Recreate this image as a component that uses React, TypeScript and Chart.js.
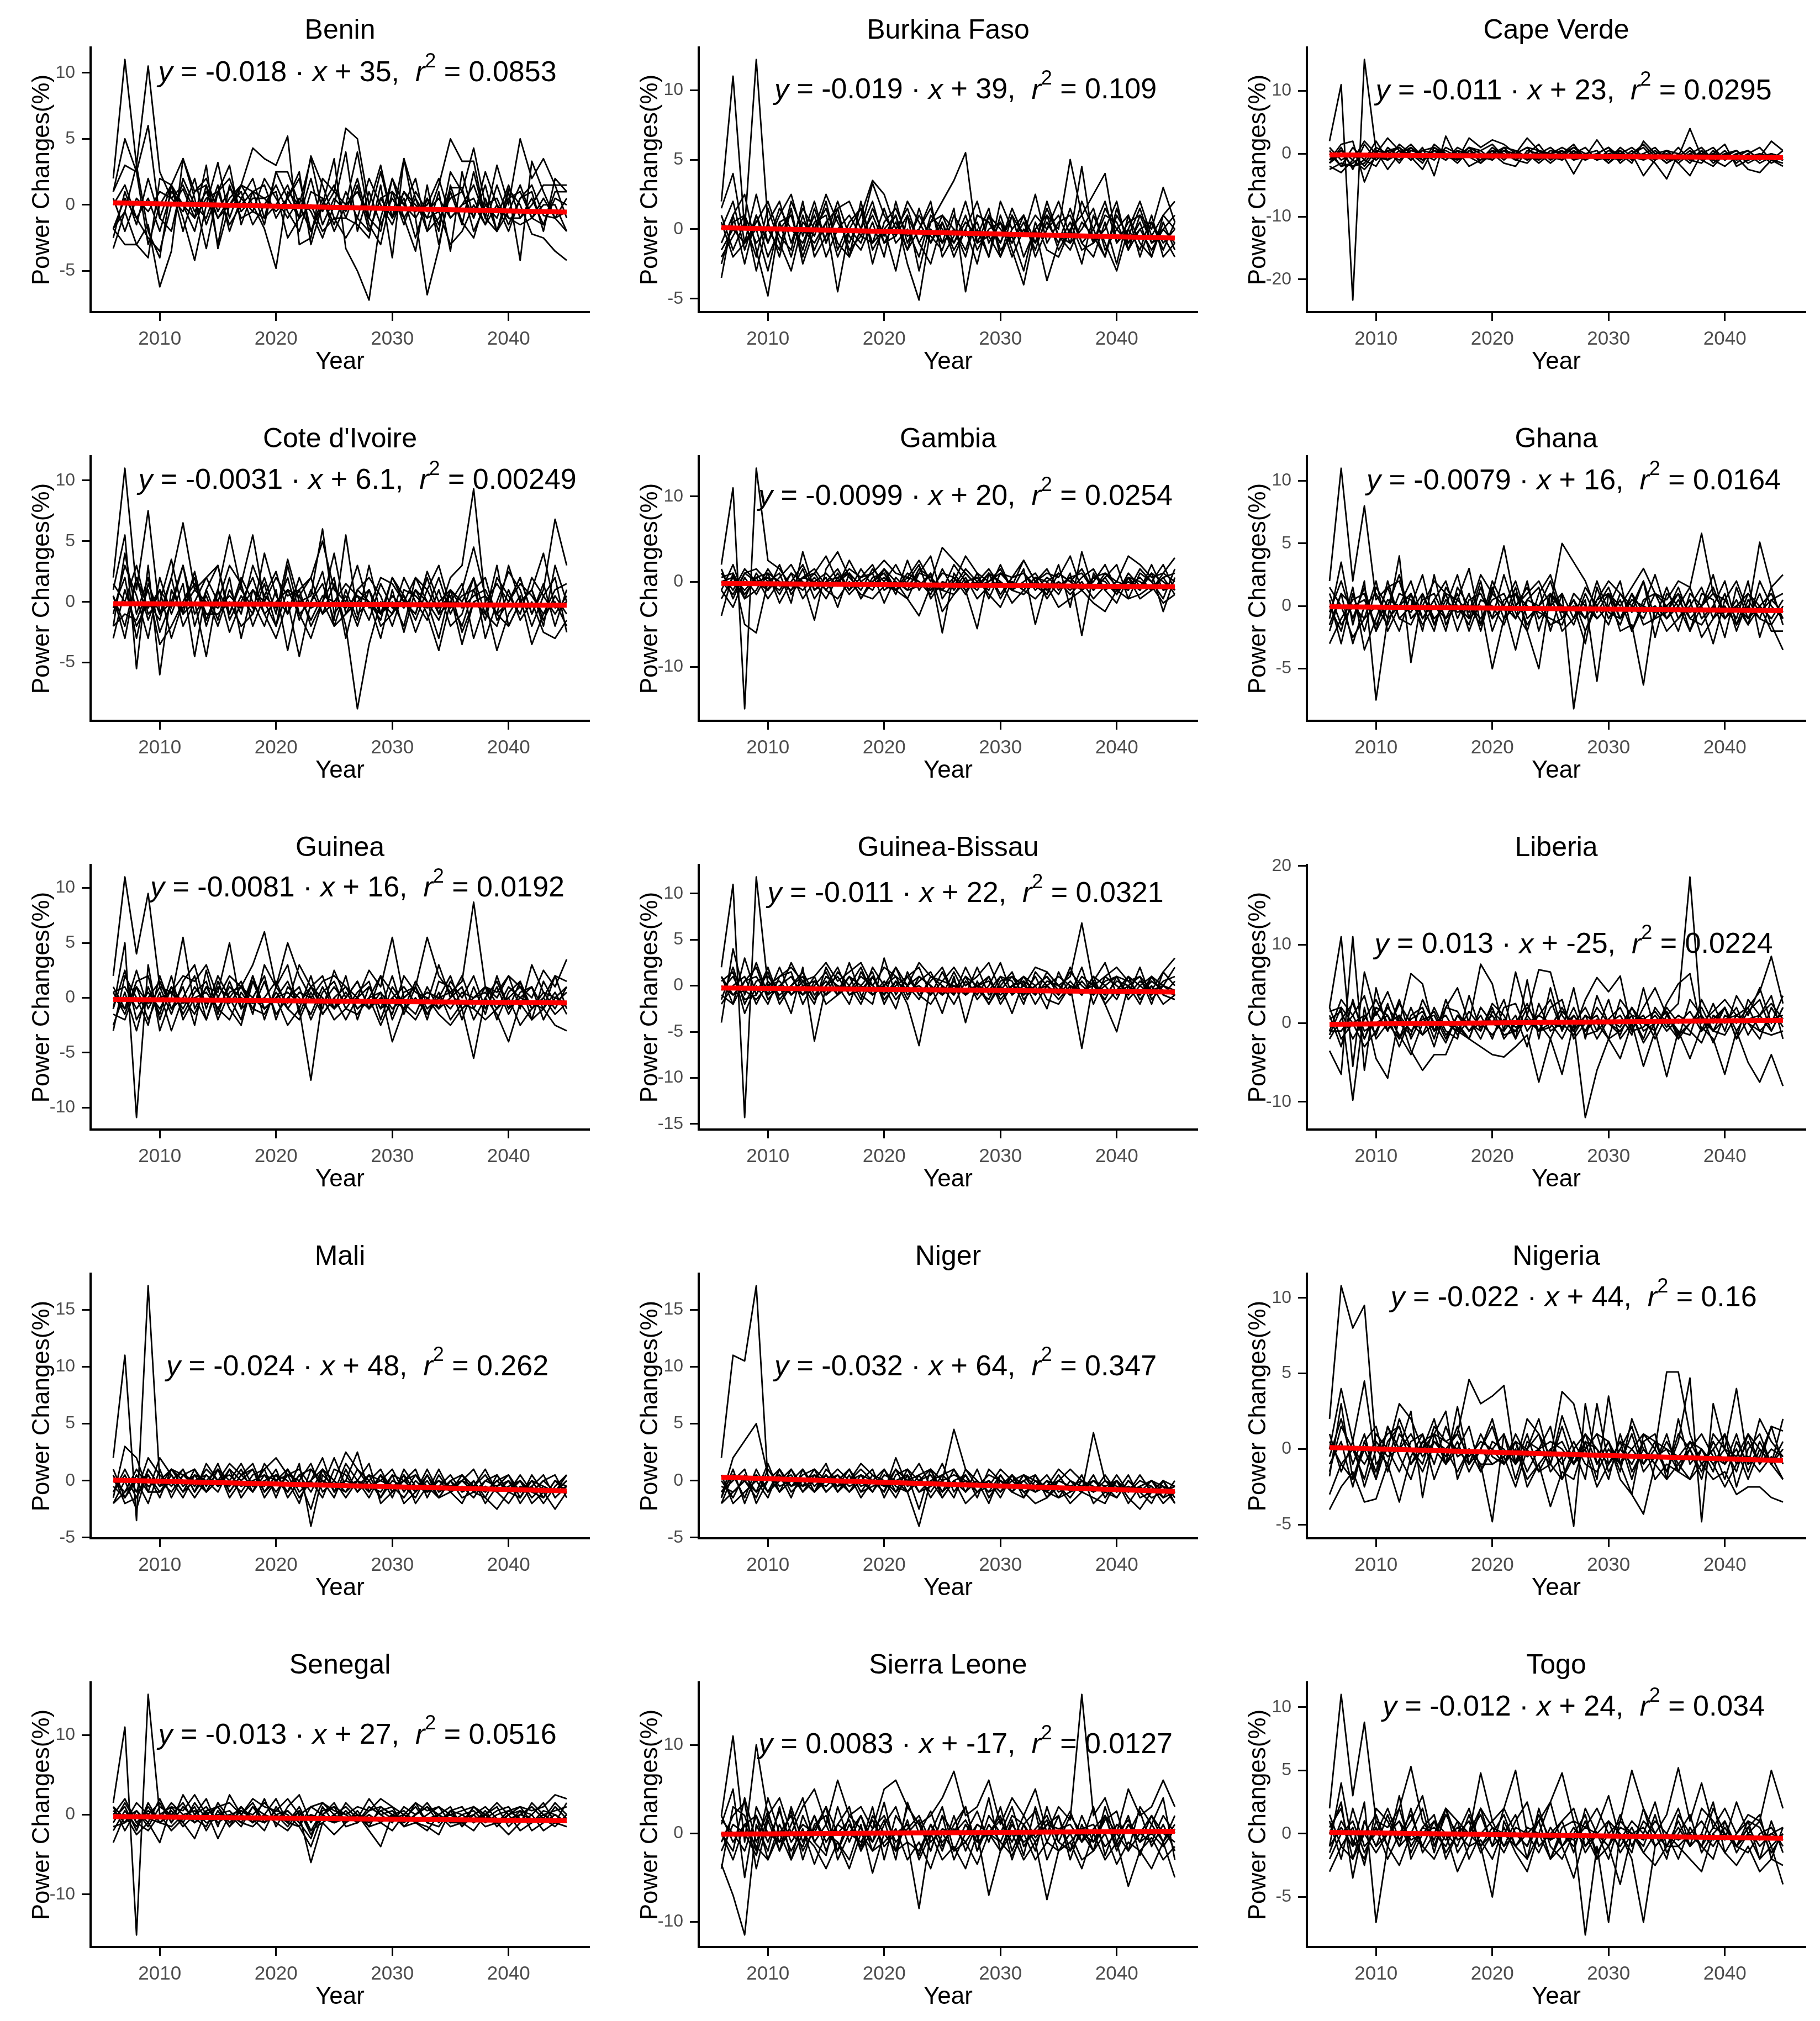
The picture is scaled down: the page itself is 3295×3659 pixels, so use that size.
import { useEffect, useRef } from "react"
import { Chart, registerables, type ChartConfiguration, type Plugin } from "chart.js"

Chart.register(...registerables)

// ---- data ----
const years = [
  2006, 2007, 2008, 2009, 2010, 2011, 2012, 2013, 2014, 2015,
  2016, 2017, 2018, 2019, 2020, 2021, 2022, 2023, 2024, 2025,
  2026, 2027, 2028, 2029, 2030, 2031, 2032, 2033, 2034, 2035,
  2036, 2037, 2038, 2039, 2040, 2041, 2042, 2043, 2044, 2045,
]
const xTickValues = [2010, 2020, 2030, 2040]

const countries = [
  "Benin", "Burkina Faso", "Cape Verde",
  "Cote d'Ivoire", "Gambia", "Ghana",
  "Guinea", "Guinea-Bissau", "Liberia",
  "Mali", "Niger", "Nigeria",
  "Senegal", "Sierra Leone", "Togo",
]
const slopes = ["-0.018", "-0.019", "-0.011", "-0.0031", "-0.0099", "-0.0079", "-0.0081", "-0.011", "0.013", "-0.024", "-0.032", "-0.022", "-0.013", "0.0083", "-0.012"]
const intercepts = ["35", "39", "23", "6.1", "20", "16", "16", "22", "-25", "48", "64", "44", "27", "-17", "24"]
const rSquared = ["0.0853", "0.109", "0.0295", "0.00249", "0.0254", "0.0164", "0.0192", "0.0321", "0.0224", "0.262", "0.347", "0.16", "0.0516", "0.0127", "0.034"]
const fitStart = [0.15, 0.1, -0.2, -0.15, -0.2, -0.05, -0.15, -0.25, -0.15, 0.05, 0.3, 0.1, -0.25, -0.1, 0.1]
const fitEnd = [-0.55, -0.64, -0.6, -0.27, -0.6, -0.36, -0.47, -0.68, 0.36, -0.9, -0.95, -0.76, -0.76, 0.22, -0.37]
const yTickValues = [
  [-5, 0, 5, 10], [-5, 0, 5, 10], [-20, -10, 0, 10],
  [-5, 0, 5, 10], [-10, 0, 10], [-5, 0, 5, 10],
  [-10, -5, 0, 5, 10], [-15, -10, -5, 0, 5, 10], [-10, 0, 10, 20],
  [-5, 0, 5, 10, 15], [-5, 0, 5, 10, 15], [-5, 0, 5, 10],
  [-10, 0, 10], [-10, 0, 10], [-5, 0, 5, 10],
]
const labelY = 10
const labelYear = 2027

const benin = [
  [2, 11, 3, 10.5, 2.5, 0.5, 1.5, -0.5, 1, -1, 0.5, 1.5, 4.3, 3.5, 3, 5.2, -3, -2.5, 2, 1, 5.8, 5, 0, 3, -1, 3.5, 0.5, -1, 1.5, 5, 3.3, 3.3, -1, 3, 0, 5, 2, 3.5, 1.5, 1.5],
  [1, 5, 2.5, 6, -1, 1.5, 3.5, 1, 2, -0.5, 1.2, 0.5, -0.5, -1, 2.5, 2.5, 0, 3.5, -0.5, 1, 0, 4, -1, -2, 2, 0, -1, 0.5, -2, 2.5, 1, 4.3, 0, -1, 1.5, -1, 0, 1.5, 1.5, -1],
  [-1.8, -0.5, 3, -2, -4, 1.5, -1, -4.2, 0, 3.2, -1, 1.5, 0, -1.8, -4.8, 1, 0, -2, 0, 3.5, -3.3, -5, -7.2, -1, 2, -1, -3.5, 1.5, -3, 1, -1.5, 2.5, -1, -2, 1, -4.2, 3.3, 1, -1, -2],
  [-3.3, -0.5, -3, -1.5, -6.2, -3.5, 3.5, 0.5, -3.3, 1, 3, -1.5, 1, 0.5, -0.5, 0.5, -1, 3.7, 1.5, -1, -1, -1.5, -2.5, 1.5, -4, 3.5, -1, -6.8, -3.3, 1.5, -1.3, -2.5, 0.5, -2, 1.2, 0, -2.2, -2.5, -3.5, -4.2],
  [-1.8, -3, -3, -4, 2, 1.5, -2, 1, 1.5, -3, 1.5, -1, -0.5, 2, 0.5, -1, 0.5, -0.5, -2.5, 0, 4, -2, 1, -1.5, 0.5, -1, 0.5, -2, 1, -3.5, 2.5, -1, 1.5, -2, -0.5, 1.5, -1, 0.5, -1, 0.5],
  [0.5, -2, 0.5, -0.5, 1, 0.5, -0.5, 2, -1.5, 1, -1.5, 0, 1, 1.5, -1, 0.5, 2.5, -3, 0, 1.5, -1, 1.5, -2, 0.5, 1, -1.5, 1, -0.5, 0.5, -1, 0, 0.5, -1.5, 1.5, -1, -1, 0.5, -1.5, 1, 1],
  [1, 3, 2.5, -3, 0, 1.5, 0, -1, 3, -3.3, 0, 1.5, 1, -1.5, 2.5, 0.5, 2, -2, 0.5, -2, 0, 1, -1, 2.5, -1, 0.5, -2.5, 0.5, -1.5, 1.3, 1.3, -2, 0, 0.5, -1.5, 0.5, 1.5, -0.8, -1, -0.5],
  [-1.8, 0.5, -1, -2.5, -3.5, 0, 1.2, -1, 0.5, 1, 2, -0.5, 0.5, 0.5, 1, -2.5, -1, 0, -2, -1, -2.5, -1, -2, 0.5, -1, 1, 0, -1, -0.5, -3, -2, 0, -1.5, 0, -1, -1.5, -1, 0, 0, -2],
  [0, 1.5, -1, 0.5, -2, 1, 0, -2, 1.5, -1, 0, 1, -1.5, 0, 1.5, -0.5, -2, 1, 0.5, -1.5, 1, -1, 2, 0, -1.5, 1, -0.5, 0, 2, -1, 0, 1.5, -1, -2, 0.5, 1, -1, -1.5, 0.5, 0],
  [-2.5, 1, -1.5, 2, -1, -2, 2, 0, -1, 1.5, -2, 0.5, 2, -1, 0, 1.5, -1, 2, -1.5, 0.5, -0.5, 2, -1.5, -3, 1, 0, 2, -2, -1, 0.5, 1, -1, 2.5, 0, -2, 0.5, 1, -2, 2, 1],
]

const burkinaFaso = [
  [2, 11, 0, 12.2, 0.5, 2, -1, 1.5, 0, 2.5, 0.5, -1, 1, 3.5, 2.5, 0, 1.5, -1, 0.5, 2, 3.5, 5.5, -1, 1, 0, -1, 0.5, -1.5, 1, 0, 5, 1, 2.5, 4, -1, 0, 2, -0.5, 1, 2],
  [-3.5, 1, 2.5, -1.5, -4.8, 0.5, -2, 1, -1.5, 0.5, -4.5, 0, -1, 1.5, -0.5, 1, -2.5, -5.1, 0, -1, 1.5, -4.5, 0, -2, 1, -1.5, -4, 0, -3.7, -1, 1.5, -1, -2, 0.5, -2.5, 1, -1, -2, 0.5, -1.5],
  [1.5, 4, -1, 2.5, -1, 1, 2.5, -0.5, 2, -1, 1.5, 2, 0, 3.3, 1, -0.5, 2, 0.5, -1, 1, 0, -1.5, 1, 0.5, -1, 1.5, -0.5, 1, 0, 2, -0.5, 4.5, -1, 1, 0.5, -1.5, 1, 0, 3, 0.5],
  [-2, -0.5, 1, -3, 0.5, -2, 1.5, -2.5, 0, 1.5, -1, -2, 2, -1.5, 0, -3, 1, -1, -2.5, 0.5, -2, 0, -2.5, 1, -1.5, -0.5, -3, 0.5, -1.5, -2, 0, -2.5, 1, -1, -3, 0, -1.5, 1, -2, -1],
  [0.5, -2, -1, 0.5, 2, -0.5, -1.5, 2, -2, -0.5, 2, -0.5, -1.5, 0.5, -2, 2, -1, 1, -0.5, -1.5, 1, -0.5, 0.5, -2, 2, 0, 1, -1, 1.5, -0.5, -1.5, 0.5, -0.5, -2, 1.5, -1, 0, -1.5, 0, 1],
  [-1, 1, -2.5, 1, -1, 1.5, 0, -1, 1, -2, 0, 1, -0.5, -1, 1.5, -1, 0, -2, 1, 0, -1, 1, -1.5, 0, 0.5, -1, 1, -2, 0, 1, -1, 0, 1.5, -1.5, 0, 1, -2, 0.5, -1, 0],
  [1, -1.5, 0.5, -2, 1.5, -1, -3, 0.5, -0.5, 2, -1.5, 0.5, 1.5, -2.5, 0.5, 1.5, -0.5, 0, 2, -2, -0.5, 2, -1, -0.5, -2, 1, -0.5, 2.5, -1, 0.5, 1, -1, 0, 2, -1, 0.5, 1, -1, -0.5, -2],
  [-1.5, 0, -1, 0, -3, 0.5, 1, -1.5, 1.5, -1, 1, -1.5, -0.5, 1, -1, 0.5, -1.5, 1.5, -1, 0.5, -1.5, 0, 2, -1, 0.5, -2, 0, -1, 0.5, -1, 0.5, -1.5, -1, 0, 2, -1.5, 0, 0.5, -1.5, 0.5],
  [0, 2, -1.5, 1, -2, 0, 1, -2, 0.5, 1, -2, 0, 1.5, -1, 0, 1, -1.5, 0, 1.5, -1, 0, -2, 1, 0.5, -1, 1, -2, 0, 1, -1.5, 0, 1, -1, 1.5, 0, -1, 0.5, -2, 1, 0],
  [-2.5, 0.5, 1, -1, 0, -1.5, 2, 0, -1, 0.5, 1.5, -2, 0, 2, -1, -0.5, 1, -3, 0.5, 1, -1, 0.5, -0.5, 1.5, -2, 0, 1, -1, 2, -0.5, -1, 2, 0, -2, 1, -0.5, 1.5, -1, 0, -1],
]

const capeVerde = [
  [2, 11, -23.3, 15, 0.5, 0, 1, -0.5, 0.5, 1, 0, -0.5, 1, 0.5, 1.5, -0.5, 0, 1, 0.5, 0, -0.5, 1, 0, -1, 0.5, 0, 1, -0.5, 0.5, -1, -0.5, 4, -0.5, -1, 0, 0.5, -1, -0.5, 0, -1],
  [-1, 1.5, 2, -4.5, 0, 2.5, 0.5, -1, 1, -3.5, 2.8, -1, 2.5, 1, 2.2, 1.5, 0, 2.5, 0.5, -1, 0.5, -1, -0.5, 2.2, -0.5, 0, -1.5, 2, 0, -1.5, -0.5, 1, -1, 0, 1.5, -2, -1, -0.5, 2, 0.5],
  [-2, -3, -1, 2, 0, -1, 0.5, -0.5, -2.5, 1, -0.5, 0.5, -2, -1, 0, -1.5, -2, 0.5, 0, -1.5, 0, -3.2, 0, -1, -0.5, -1, 0, -3.5, -1, 0, -1.5, -3.5, 0, -1, -2, -0.5, -2.5, -3, -1, -2],
  [1, -1, 0, -2, 0.5, -2.5, 0, 1, -1, 0.5, 0, -1.5, 0.5, -0.5, -1, 0.5, -1, 0, -1.5, 0, 1, 0, -1, 0, -1.5, 0.5, -1, 0, -1.5, -4, 0, -1.5, 0.5, -1, 0, -1, -0.5, 0, -1.5, -0.5],
  [-1.5, 0, -2, -1.5, 1, 0, -1, 0.5, 0, -1, 1, 0, -0.5, -1.5, 0.5, 0, -1, -1.5, 0.5, -0.5, -1, 0.5, -1, 0, -0.5, -1, 0.5, -1, 0, -1.5, 0, -1, -1.5, 0.5, -1, 0, -1.5, -0.5, -1, -1.5],
  [0, -2, -1.5, 0, -1, 0.5, 1, -1, 0.5, 0, -1, 1, 0, 0.5, -1, 1, 0.5, -1, 0, 1, -0.5, 0, 1, -1, 0, 0.5, -1, 0, 1, -1, 1, -1, 0, 1, -1, 0, 0.5, -1, 0, -0.5],
  [-2.5, -1.5, -2, -1, -2, 1, -0.5, 0, -1, 0.5, -0.5, -1, 0, -0.5, 0.5, -1, 0.5, -0.5, -1, 0, 0.5, -1, 0, 0.5, -1.5, 0, -0.5, -1, 0, 0.5, -1.5, 0, -1, -2, 0, -1, 0, -1.5, -0.5, -1],
  [-1, 0.5, -1, -2.5, -0.5, -1, 0, 1.5, -0.5, 0, 0.5, -0.5, 1, 0, -0.5, 0.5, 0, 1, -1, 0.5, 0, 1, -0.5, 0, 1, -0.5, 0, 1.5, -0.5, 0, -1, 0.5, -1, 0, -0.5, 0.5, -1, 0, -0.5, -1],
  [-1.5, 1, -2.5, 1.5, -1, 0.5, -1.5, 1, -0.5, 0, -1, 0.5, 0, -1, 1, -0.5, 0, -1, 0.5, 0, -1, 0.5, -0.5, 0, -1, 1, -0.5, 0, -1, 0.5, 0, -1, 0.5, -1.5, 0, -0.5, 0.5, -1, 0, -1],
  [0.5, -2, 1, -1, 2, -1, 1.5, 0, -1.5, 1.5, 0, -1, 1, -1.5, 0, 1, -1, 0, 1.5, -1, 0, 1.5, -1, 0, 1, -1.5, 0, 1, -1, 0.5, -1, 0, 1, -1, 0.5, -1.5, 0, 1, -1, 0.5],
]

const coteDIvoire = [
  [2, 11, 1, 7.5, -1, 2, 6.5, 1, 2, 0, 3, 1.5, 5.5, 0, 2, 0.5, 1, 2, 5, 1, 0, 3, -0.5, 2, 1.5, 0, 2, 1, -1, 2, 3, 9.3, 0, 1.5, 0, 2, -1, 1, 6.8, 3],
  [1, 5.5, -5.5, 3, -6, 1, -1, 2.5, -1.5, 1, 5.5, 1, -0.5, 2, -1, 3.5, 0, 0.5, 6, -1, 0.5, -2, 1, -1, 2, 0.5, -1.5, 1, 3, -0.5, 0.5, 1, -1.5, 2, 0.5, -1, 2, 0.5, -1, 0.5],
  [-1, 3, 0.5, -3, 2, -1, 1.5, -4.5, 1, 3, -1, 2, 0, -2, 1, -4, 0.5, 2, -1, 1.5, -2, -8.8, -3.5, 0, -1, 2, 0, -1.5, 1, -2, -1, 2, -3, 0, 2.5, 1, -2, 0.5, 2, -2.5],
  [-3, 1, -2, 0, -1.5, 2, -2, 0, -4.5, 1, -2.5, 0, 2, -1, -3, 0, -4.5, 0, 1.5, -1.5, 5.5, -1, 0, -3, 1, -2.5, 1, -1, -4, 0, 1.5, -3, 0, -4, -1, 0.5, -3.5, -1, 0, -2],
  [0.5, -2, 2, -1.5, 1, -0.5, 3, -1, 0.5, -2, 1, -1, 3, 0.5, -0.5, 2, -1.5, 1, -1, 0, 1.5, 0.5, -1.5, 1.5, -0.5, 0, -1, 2.5, 0, 1, -0.5, 0.5, 1, -1, 0, 1.5, 0.5, -1, 1, 1.5],
  [-2, -1, -1.5, 1, -3.5, -2, 0, 1.5, -1, -1, 0, -2, -1, 1.5, -2, 1, -1, -3, 0, -2, -1, 0, 1, -2, -1, 0.5, -2.5, 0, -1.5, 1, -2.5, 0, -1, -2, 1, -1.5, 0, -2.5, -3, -1.5],
  [1.5, 0, 3, -1, 0, 3.5, -1, 0, 2, 3, -1.5, 0.5, -1, 4, 0.5, -1, 2, -0.5, 0, 4, -1, 1, 2, 0.5, -2, 1, 0.5, -0.5, 2, -1, 1, 4.5, 0.5, -1, 3, 0, 1, 4, -0.5, 0],
  [-0.5, 2, -3, 1.5, -1, 0, -0.5, 1, 0, -0.5, 0.5, -0.5, 1, -1, 0, 1, 0.5, -1.5, 0.5, 0, -0.5, 0.5, 0, -1, 0.5, -0.5, 1, 0, -0.5, 0.5, -3.5, 0, 0.5, -1, -2, 0, 1, -1.5, 0.5, -1],
  [-2, 4, -1, 2, -2.5, 0, 3, -2, 1, -1.5, 2, -3, 1, 0, -2, 3, -1, 0, 2.5, -2, 1, -1.5, 3, -1, 0, -2, 2, 0, -3, 1, 0, 2, -1, 3, -2, 0, 1, -2, 3, 0],
  [0.5, -3, 2, -0.5, 1, -3, 0, 2, -2, 1, -1, 1.5, -2, 0.5, 2.5, -1, 1, -2, 0, 2, -3, 1, 0, -1.5, 2, 0, -1, 2, -1, 0, -2, 1, 2, -1.5, 0, 2, -1, 1.5, -2, 1],
]

const gambia = [
  [2, 11, -14.9, 13.3, 2.5, 1.5, -0.5, 0.5, 1, 3, 0, 1.5, 0.5, 1, 2.5, 1, 0.5, 2.5, 0, 4, 2.5, 1, -0.5, 0, 1, 0.5, 2.5, 0, 1, 0.5, 3, -1, 0.5, 1, 0, 3, 2, 0.5, 1, 2.8],
  [-4, 1, -5, -6, 0, 1, -2.5, 3.5, -1, 0.5, -3, 1, -2, 0.5, 1, -1.5, 2.5, -1, 1, -6, 1, -1, -5.5, 1, 0, -1, 1.5, -5, 0, -1.5, 1, -6.3, 1, -1, -2.5, 0.5, -1, 1, -3.5, 0.5],
  [1.5, -2, 1, 1.5, 0, -1, 1, 0, -4.5, 1.5, 3.5, 0.5, -1, 1.5, 0, 2, -0.5, 1, 3, -2, 0, 3, 1, -2, 1, -0.5, 2.5, 0, -1.5, 2, -3, 3.5, -1, 0.5, 2, -2, 1, 0, 2, -1],
  [-1, -3, 0.5, -1.5, 1, -2.5, 0, -1, 0.5, -1, -2, 0, -1.5, -2, -0.5, -1, -2, -4, -0.5, -1, -1.5, 0, 0.5, -1.5, -3, 0, -1, -2, -0.5, -3, -2, -1, -2.5, -3.5, -1, -2, -1.5, -0.5, -2.5, -1.5],
  [0, 0.5, -2, 1, -1, 0.5, 2, -0.5, 1, -1, 1, -1, 1.5, -0.5, 0.5, -1, 1, 0, -1.5, 1.5, -1, 1, -0.5, 1, -1.5, 0.5, 1, -1, 0.5, -0.5, 0.5, 1, -1, 0.5, -1.5, 1, -0.5, 1, 0, -1],
  [1, -1, 1.5, 0, 0.5, -1.5, 1, -2, 0, 1, -0.5, 2.5, 0, -1, 1.5, 0, -1, 1.5, 0.5, -1, 0.5, -1.5, 1, 0, 1.5, -1, 0, 1, -1, 0, -1, 0.5, 1.5, -1, 0, -0.5, 0.5, -1, 0.5, 1],
  [-2, 0.5, -1, 0.5, -2, 0, -1, 1.5, -2, 0, 0.5, -1.5, 0, 1, -2.5, 0.5, -1, -0.5, 1, -3.5, -1.5, 0.5, -2, -0.5, 0, -2.5, -1, 0.5, -2, 0, -1.5, 0, -2, -0.5, -1, 0.5, -2, -1, 0.5, -1.5],
  [0.5, 1, -1.5, 0.5, 1, 0, -1, 0.5, 1.5, -0.5, 0, 1, -0.5, 0, 1, -1, 0.5, 0, -1, 1, 0.5, -1, 0, 1.5, -0.5, 0, -1, 0.5, 0, 1, 0, -1, 0.5, 0, -1.5, 0.5, 0, -1, 1, 0],
  [-1, 2, -2, -1, 1.5, -0.5, 0, 2, -1, 0, 1.5, -1, 0.5, 2, -1, 0, -2, 1, 0.5, -1, 2, 0, -1, 1, -2, 0.5, 1, -0.5, -1.5, 1, 0, 1.5, -1, 1, -0.5, -1, 1.5, 0, -2, 1.5],
  [0, -1.5, 1, 0, -1, 2, -1.5, 0.5, 0, -2, 0.5, 1, -2, 0, 1.5, -1, 0, 2, -2, 0, -0.5, 1.5, 0, -1, 2, -1, -1.5, 0, 1.5, -1, 0.5, -1, 0, 2, -1, 0, -1, 2, -1, -0.5],
]

const ghana = [
  [2, 11, 2, 8, 0.5, 1.5, 2, -1, 0, 2, 1, 0.5, -0.5, 2.5, 1, 4.8, 0, 1, 2, 0, 5, 3.5, 2, -0.5, 1, 0, 1.5, 3, 1, 0.5, 2, 1.5, 5.8, 1, 0.5, 2, -0.5, 5.1, 1.5, 2.5],
  [-1, 3.5, -1.5, 2, -7.5, -1, 4, -4.5, 1, -1, 0, 2.5, -1, 0, -5, -1, 1.5, -2, -5, 1, -2, -1, 0.5, -6, 1, -2, -1.5, -6.3, 0, -2, -1, 0.5, -2.5, -1, 1, -2, 0.5, -1, -1.5, -3.5],
  [0.5, -3, 1, -2, 1.5, 0, -2, 1, -2, 2.5, -1.5, 0.5, 3, -1.5, 2, 0, -3.5, 0.5, 1.5, -2, 1, -8.2, -2, 0.5, 2, 1, -0.5, 2, -2.5, 1, 0, -2, 1, 0.5, -2.5, 1.5, -1, 0, 1, -1],
  [-3, -1, 0.5, 1, -2, 2, -1, 0, 2.5, -1.5, 1, -2, 0.5, 1, -1, 2.5, -0.5, -2, 1, 2.5, -0.5, 0, -3, 1.5, -1, 0.5, -2, 0, 2.5, -0.5, 1.5, -1, 0, -3, 0.5, -1, 2, -2.5, 0.5, 1],
  [1.5, 0, -2.5, -1, 0, -1.5, 1, 0.5, -1.5, 0, -1, 1, -2, 0.5, 0, -1.5, 1, 0, -0.5, -1, -1.5, 1, 0, -1, 0, -1.5, 1, -0.5, 0, -1, 0.5, -1, -1.5, 0, -1, 0.5, -1.5, 0, -1, 0.5],
  [-2, 1, -3, 0, 1, -1, 0, 2, -1, 0.5, 2, -1, 1, -2, 1.5, -1, 0, 1.5, -1, 0, 1, -1, 1.5, 0, -1.5, 1, 0, -1, 1, 0, -2, 1, 0, 1.5, -1, 0, -1, 1, -1.5, 0],
  [0, -2, 1.5, -3.5, -1, 1.5, -1, -1.5, 0.5, 1, -1, 0, -1.5, 1.5, -1, 0, 2, -1, 0, -1.5, -1, 0.5, -1, 2, -0.5, -1, 1, -1.5, -1, 1.5, -1, 0, 1.5, -1, 0, -1.5, 1, 0, -2, -2],
  [-1.5, 1, 0, 0.5, -1.5, 0.5, 0, -0.5, 1, -1.5, 0.5, -0.5, 0, -1, 0.5, 1, -1, 0.5, 0, 1, -0.5, 0, -1, 0.5, 1, -1, 0.5, 0, -0.5, 0, 1, -0.5, 0, 1, -0.5, 0, 1, -0.5, 0.5, -0.5],
  [-0.5, 2, -1, 1.5, -2, 0, 2.5, -1, 0, -2, 1.5, 0, -1, 2, -2, 0.5, 1, -1.5, 0, 2, -1, 0.5, -2, 0, 1.5, -1, 0, 2, -1, -0.5, 1, -2, 0, 2.5, -1, 0, -1.5, 2, 0, -1],
  [1, -1.5, 0, -1, 2, -2, 0, 1, -1, 0.5, -2, 1.5, 0, -1.5, 1, 0, -1, 2, -2, 1, 0, -1.5, 1, -1, 0, 2, -2, 0.5, 1, -1, 0, 1.5, -1, 0, 2, -1.5, 0, -1, 1.5, -1.5],
]

const guinea = [
  [2, 11, 4, 9.5, 1, 0.5, 2, 1.5, 3, 0, 2, 1, 3, 6, 1, 5, 2, 0, 1.5, 2, 1, 0, 2.5, 1, 5.5, 0, 1, 5.5, 2, 0.5, 1.5, 8.7, 1, 0, 2, 1, 0, 2.5, 1, 3.5],
  [-1, 5, -10.9, 3, -3, 0, 5.5, -1, 1, 0.5, 5, -1, 0, 2, -2, 1, 0, -1.5, 1, -1, 0, 1.5, -1, 0, -1.5, 2, 0.5, 0, -1, 1.5, 0, 2, -1, 1, -1.5, 0.5, 1, -1, 2, 1.5],
  [-2.5, 0.5, -3, 1, -1.5, 2, -2, 0, -2, 1.5, -1, -2.5, 1.5, -1, 0, -2.5, -1, -7.5, 0, -2, -1, -1.5, 0, -2.5, 0, -1, -2, 0, -1.5, -2.5, -1, -5.5, 0, -1.5, -4, -0.5, -2, -1, -2.5, -3],
  [1, -1, 2.5, -1, 1, -1.5, 1.5, 3, -1, 2, 0, 1.5, -1.5, 3, 1, -0.5, 3, 1, -1, 2.5, 0, 1.5, -1, 2, 0.5, -1, 1.5, -0.5, 3, 0, 2, -1, 1, 0.5, 2, -1, 3, 0.5, -1, 1],
  [-1.5, -2, 1, -2, 0.5, -3, 0, -1.5, 1, -1, -2, 0.5, -1, -1.5, 0.5, -1, -2, 0.5, -1.5, 0, -2, 0, -1, 0.5, -4, -1, 0, -1.5, 0.5, -2, -0.5, -1, -2, -1, 0, -2.5, -1, 0, -1.5, -0.5],
  [0.5, 1, -1, 0.5, -1, 1, -0.5, 0, 0.5, -1, 1, 0, -0.5, 0, 1.5, -1, 0.5, 0, -0.5, 1, -0.5, 0, 1, -1, 0, 1, -0.5, 0.5, 0, -1, 0.5, 0, 1, -0.5, 0, 1, -1, 0.5, 0, -0.5],
  [-3, 2, 0, -2.5, 2, -1, 1, -2.5, 2.5, -1.5, 1.5, -1, 2, -2, 1, 3, -1.5, 1, 2, -1, 2, -2, 1, -1, 2, -1.5, 1, -2, 1.5, 1, -2, 1, -1.5, 2, -1, 1.5, -2, 1.5, -0.5, 0.5],
  [0, -1, 1, -0.5, 0, 0.5, -1, 1, -0.5, 0, -0.5, 1, 0, -1, 0, 0.5, -0.5, 1, 0, -1, 0.5, -1, 0, 0.5, -1, 0, 1, -1, 0, 0.5, -1, 0, 0.5, -1, 1, 0, -0.5, -1, 0.5, -1.5],
  [-1, 2.5, -2, 0, 1.5, -1, 0, 2, -2, 1, 0, -2, 2, -1, 0, 1.5, -1, 2, -1.5, 0, 1, -1, 0, 2, -2, 0.5, 1, -1.5, 0, 2, -1, 0, 1, -2, 0.5, 1.5, -1, 0, 2, -1],
  [0.5, -1.5, 1.5, 2, -2, 1, -1.5, 0.5, 1.5, -2, 0.5, 1, -1, 1.5, -1.5, 0, 1, -2, 0.5, 1.5, -1, 0.5, 1.5, -2, 1, -0.5, -1.5, 1, -1, 0, 1, -2, 0, 1.5, -1, 0, 1, -2, 0, 1],
]

const guineaBissau = [
  [2, 11, -14.3, 11.8, 0, 1, 2, 0.5, 1, 2.5, 0.5, 1.5, 2.5, 0, 2, 1, 0, 2.5, 1, 0.5, 2, 0, 1, 2.5, -0.5, 1, 0, 2, 1.5, 0, 1, 6.8, 0, 1, 2, 0.5, 1, -0.5, 1.5, 3],
  [-4, 4, -1, 2.5, -1, 0, -3, 2, -6, 0, 2, -1, 0, 1.5, -2, 0.5, -2, -6.5, 0, -3, 1, -4, 0.5, -2, 0, -3, 0.5, -2, 0, -1.5, 0, -6.8, 0.5, -2, -5, 0, -2, 1, -1, -1.5],
  [-1, -2, 3, -1, 2, -1.5, 0, -1, 1, -2, -1, 2.5, -1, -2, 3, -1, 1, 2, -1, 1.5, -1, 1, -1.5, 0, 2.5, -1, 1, 0, -2.5, 1.5, -1, 2, -2, 1, 0, -1, 2, -1.5, 0, 2],
  [1, -1, 0.5, 1, -1, 2, -1, 0.5, -1.5, 1, 0, -2, 1.5, -0.5, 0, 2, -1, 0.5, 1.5, -1, 0, -1, 2, -1, 0, 1.5, -1.5, 0, 1, -0.5, 1.5, 0, -1, 0.5, 1, -1.5, 0, 1, -1, 0.5],
  [0.5, 1.5, -3, 0, -2, 1, 1.5, -2, 0.5, -1, 1.5, 0, -2, 1, -1.5, 0, 1, -1, -2, 0, -2, 0.5, -1, 1, -2, 0, -1, 1, -1.5, -2, 0, -1, 1, -2, -0.5, 1, -1.5, 0, -2, -1],
  [-2, 0, 1, -2, 0.5, -1, 0, 1.5, -1, 0.5, -1, 1, 0, -1, 0.5, -1.5, 0, 1, 0, -1, 0.5, -1, 0, -0.5, 1, -1, 0, -1, 0.5, 0, -1, 0.5, -1, 0, 1, -1, 0.5, -0.5, 0, -1],
  [-1.5, 2, -2, 0.5, 1, -0.5, 2.5, 0, -2, 2, -0.5, 1, -1.5, 2, 0, -2.5, 1.5, -1, 0.5, 2, -1, 2, -0.5, -1.5, 1, 0.5, -2, 1.5, 0, -1, 2, -1, 0.5, 2.5, -1, 0, 1, -2, 1.5, 0],
  [0, -1, -0.5, -1.5, 0, 0.5, -1, 0, 0.5, -1, 0, -0.5, 1, 0, -1, 0.5, -0.5, 0, -1, 0.5, 0, -0.5, 0, 0.5, -1, 0, 0.5, -0.5, 0, 1, 0, -0.5, 0, -1, 0.5, 0, -1, 0.5, -0.5, -1],
  [1, -2, 0.5, 2, -1.5, 0, 1, -1, 0, 1.5, -1, 0, 2, -1, 0, 1, -1.5, 1, 0, -1, 1.5, -1, 0, 1, -1.5, 0, 1, -1, 1.5, 0, -1, 1, 0, -1.5, 1, 0.5, -1, 1, 0, -0.5],
  [-0.5, 1, -1.5, -1, 1.5, -2, 0, 1, -1.5, 0, 1, -1, -0.5, 1, -1, 2, 0, -1.5, 1, 0, -1, 1, 0, -2, 0.5, 1, -1, 0, 1, -1, 0.5, -1, 1, 0, -1.5, 1, 0, -1, 0.5, 1],
]

const liberia = [
  [2, 11, -5.5, 6.5, 1, 4, 0, 6.3, 5, -1, 2, 4.5, 0, 7.5, 5, -1, 6.5, 1, 6.8, 6.5, 1, -1, 3, 5.8, 4, 6, -1, 2, 4.5, 1, 2.5, 18.6, 0, 1.5, 3, 1, 2, 4, 8.5, 2.5],
  [-3.5, -6.5, 11, -6, 4.5, -1, 2.5, 0, -1.5, 2, -1, -2, 3.5, -1, 2.5, 1, -2, 5.5, -2, 4.5, -1, 4.5, -2, 3.5, 0, 1, -1.5, 4.5, -1, 2.5, 5, 6.3, -1, 2.5, -1, 3.5, 1, 4.5, 0, 3.5],
  [1.5, 2, -9.8, 2, -4.5, -7, 1, -3.5, -6, -4, -4, -0.5, -2, -3, -4, -4.3, -3, -1.5, -7.5, -2, -6.5, 0, -12, -6, -2, -4.5, 0, -5.5, -1, -6.8, -1, -4.5, -0.5, -2, -6.5, -1, -5, -7.5, -4, -8],
  [-1, 3, 1, -2, 1.5, -1, 3, -2, 1, -3, 2, 1.5, -1, 1, -2, 2, 2.5, -1, 1, 3, -1, 2, -1.5, -1, 3, -2, 0, 1, -2, 1, -1, -1.5, 3, 0, 2, -1, 1.5, 3, -1, 2],
  [2, -2, 0, 1, -1.5, 2.5, -2, 0.5, 1.5, -1, 0, -1, 1.5, -0.5, 1, -1.5, -1, 0.5, -1, -0.5, 2, -1, 1, -2, 0.5, 2, -1, -0.5, 1, -1, 0.5, -1, -2.5, 1, 0, 2, -1.5, 1, 2.5, 0.5],
  [-2, 0.5, 2.5, -1, 0, 1, -1.5, -4, 0, 1.5, -1.5, 0, -2, 2, 0, -1, 1, -3, 2.5, -1, 0, -1.5, 1, 0, -2, -1, 1, -2.5, 0, 1.5, -1.5, 0, 1, -2.5, 1, 0, 2, -1, -1.5, -1],
  [0.5, 1.5, -2, 0.5, 3, 0, -2, 2, -1.5, 0, 1, -1.5, 0.5, -2, 1.5, 0, -1, 2, 0, -2, 1.5, 0, 2, -1, 0.5, -0.5, 2, 0, -1, 2, 0, 1.5, -1, 0.5, 2, -2, 0.5, 1, 3.5, -2],
  [-1, -1, 1, 3.5, -2, 0, 1, -1, 0.5, 1, -2, 1, -1, 0, -1.5, 0.5, -0.5, 0, 1, 0, -0.5, 1, -1, 0.5, 0, -1, 1, 0.5, 1.5, -0.5, 1, 0, 0.5, -1, 0.5, 1, 0, -1, 0.5, 1],
  [1, -3, 3, -2, 2, 1, -3, 1, 2, -2, 3, -1, -2, 2, 0, 3, -2, 1, -1, 2, 3, -2, 0, 1, -2, 3, 1, -2, 2, 0, -2, 3, 1, -1, 2, -2, 3, 1, -1, 2],
  [-1.5, 2, 0, -3, -1, 2, 0, -1.5, 3, 0, -2.5, 1, 0, -1, 2, -2, 0, 2.5, -1, 0, -2, 1, -1, 2, 0, -1.5, 2, -1, 0, 1.5, -2, 0, 2, -1, -1.5, 1, 0, -2, 2, -0.5],
]

const mali = [
  [2, 11, -3.5, 17.1, 0, 1, 0.5, -0.5, 1, 0, 1.5, 0.5, -0.5, 1, 2, 0.5, 0, 1.5, -1, 0, 2.5, 1, -0.5, 0, 1, -1, 0.5, -0.5, 0, -1, 0.5, -0.5, -1, 0, 0.5, -1.5, 0, -0.5, -1, 0.5],
  [-1.5, 3, 2, -1, -1, 0.5, -1, 1, -0.5, 1.5, -1, 0.5, 1, -1.5, 0, -1, 1.5, -4, 0.5, -0.5, -1, 0, 1.5, -2, -1, 0.5, -2, -0.5, -1.5, -1, -2, 0, -1.5, -2.5, -1, 0, -2, -1, -2.5, -1],
  [-2, -1, 0, -2, 1, -1.5, 0.5, 0, -1, 1, 0, -1, 0.5, 1, -1.5, 1, -0.5, 0, 2, -1, 0, 2.5, -1, 0.5, -0.5, -1.5, 0, -1, -0.5, 0.5, -1, -0.5, 1, -1, 0, -2, -0.5, 0.5, -1.5, -0.5],
  [0.5, -2, -1.5, 0.5, -1, 0, -1.5, 0.5, 0, -1, 1, -1.5, 0, -0.5, 1, -1.5, 0, -2.5, 1, 0, -1.5, 0, -0.5, -1, 0.5, -2, -1, 0, -1.5, 0, -1.5, -1, -0.5, -1, -2, -0.5, -1, -1.5, 0, -1],
  [-1, 1, -1, 2, 0.5, -0.5, 1, -1, 1.5, 0, -0.5, 1, -1, 0.5, 0, 1, -1, 0, -1.5, 1, 0.5, -1, 0, 1, -1, 0, 1, -1.5, 0.5, -1, 0, 1, -1, 0, -1, 0.5, -1, 0, 0.5, -1.5],
  [1, -1.5, 0.5, -1, 2, 0.5, -1, 0, 0.5, -0.5, 0, 1.5, -0.5, 0, 0.5, -1, 0.5, 1, -0.5, 2, -0.5, 0, -1, 0.5, -1.5, 1, -0.5, -1, 1, -1, -0.5, -1.5, 0, 0.5, -1, -1.5, 0.5, -1, -1, 0],
  [-2, 0, -2.5, 1, -0.5, 1, 0, -1.5, 0, 1, -1.5, 0, 1, -1, 0.5, 0, -2, 1, 0, -1.5, 1, -1, 0.5, -1.5, 0, -0.5, -1.5, 0.5, -1, 0, -1, 0, -2, -0.5, 0, -1, -0.5, -2, -0.5, 0.5],
  [0, -1, 1, -0.5, 0, -1, 0.5, 1, -1, 0, 0.5, -0.5, 0, 0.5, -1, 0.5, 1, -0.5, 0, -0.5, 0, -0.5, 0.5, 0, -0.5, 0, 0.5, -1, 0, -0.5, 0, -0.5, 0.5, -1, -0.5, 0, -1, 0, -1, -0.5],
  [-1, 0.5, -1.5, 1, -0.5, 0, 1, -1, 0.5, -0.5, 1, 0, -1, 1.5, 0, -1, 0.5, -1, 1, 0, -1, 1, 0, -1.5, 0.5, 0, -1, 0.5, -1.5, 0, 0.5, -1, 0, -0.5, 0.5, -1, 0, -1.5, 0, -0.5],
  [-0.5, -1.5, 0, 0.5, -1.5, 1, -0.5, 0.5, -1, 1, -1, 0.5, 1.5, -1, 0, 0.5, -1.5, 0, 1, -1, 1.5, 0, -1.5, 0.5, -1, 0.5, -1, 1, -1, -0.5, 0, -1, -1.5, 0.5, -1, 0, -1.5, -0.5, -1, 0],
]

const niger = [
  [2, 11, 10.5, 17.1, 0, 1, -0.5, 0.5, 1, 0, 1, 0, 1.5, 0.5, -0.5, 1, 0, 0.5, 1, 0, 4.5, 1, -0.5, 0.5, 0, -1, 0.5, 0, -0.5, 1, 0, -1, 4.2, 0, -0.5, -1, 0.5, -1, 0, -0.5],
  [-1.5, 2, 3.5, 5, 0.5, -1, 1, -0.5, 0, 1.5, -1, 0.5, -1.5, 0, 1, -0.5, -1, -4, 0, -1.5, 0, -2, -1, 0, -1.5, 0.5, -1, -2, -1.5, -0.5, -2, -1, -1.5, -2, 0, -1.5, -2.5, -1, -0.5, -2],
  [-2, -1, 0, -1.5, 1, -0.5, 0, 1, -1, 0, 0.5, -1, 0, 1, -1.5, 0.5, 1, -1, -0.5, 1.5, -1, 0.5, -1.5, 1, 0, -1, 0.5, -0.5, -1, 0, 1, 0, -1, -0.5, -1.5, 0, -1, -0.5, -2, -1],
  [0.5, -2, -1, 0, -1.5, 1, -1, 0, 0.5, -1, 0, 1, -1, -0.5, 0, -1.5, 0.5, -2.5, 1, -1, 1, -1, 0, -2, 0.5, -1, -1.5, 0.5, -1, -1.5, -1, 0.5, -2, -1, 0, -2, -0.5, -1.5, -1, -0.5],
  [-1, 0, 1, -2, 0, 0.5, -1.5, 1, -0.5, 0.5, -1, 0, 0.5, -1, 0.5, 0, -1, 0.5, -1.5, 0, 0.5, 0, -1, -0.5, 1, 0, -1, -0.5, 0.5, -1, -0.5, 0, -0.5, -1, 0.5, -1, 0, -0.5, -1.5, 0],
  [-1.5, 1, -2, 0.5, -1, 0, 1, -1, 0, -0.5, 0.5, -0.5, 0, -1, 1, -1, 0, 1.5, -0.5, 0, -1.5, 1, 0, -1, -0.5, 0.5, -1.5, 0, -1, 0.5, -1, -0.5, 0, -1, -1.5, 0, -1, 0, -0.5, -1],
  [0, -1.5, 0.5, -1, 1.5, -1, 0, -0.5, 1, -1, 0, 1, -0.5, 0, -1, 2, -0.5, 0, 0.5, -1, 0, -1, 1, -1.5, 0, -0.5, 0, -1, 0, -0.5, -1.5, 0, -1, 0.5, -1, -0.5, -1, -2, 0, -1.5],
  [-2, 0.5, 0, -1, 0, 0.5, -0.5, 0, -1, 0.5, -0.5, 0, 1, 0, -0.5, 0, 0.5, -1, 0, 0.5, -0.5, 0, -0.5, 0, -1, 0, 0.5, -1, -0.5, 0, -0.5, -1, 0, -0.5, 0, -1, -0.5, 0, -1, -0.5],
  [-1, 0.5, -1.5, 1, -1, 0, 0.5, -1, 0.5, 0, -0.5, 1, -1, 0.5, 0, -1, 1, 0, -1, 0.5, 1, -0.5, 0, -1, 0.5, -1, 0, 0.5, -1.5, 0, -0.5, -1, 0.5, -1.5, 0, -1, -0.5, 0, -1.5, -1],
  [-0.5, -1, 0, 0.5, -1, 1, -0.5, 0, -1, 1, 0, -1, 0.5, 0, -1, 1, -1, 0, 1, -1.5, 0, 0.5, -1, 0, -1, 0.5, -0.5, -1, 0, -1.5, 0, -0.5, -1, 0, -1, 0.5, -1.5, -1, 0, -2],
]

const nigeria = [
  [2, 10.8, 8, 9.5, 0, 1, 1.5, -1, 0.5, 1, 0.5, 1, 4.6, 3, 3.5, 4.2, -1, 0, 1, -0.5, 3.8, 3, 0, 1, 0.5, -1, 0, 1, 0, 5.1, 5.1, 1, -1, 0, 1, -1, 0.5, -1, 1.5, 1.2],
  [0, 4, 0.5, 4.5, -1, 0, 3, 2, 0, 1, 2.5, -2, 0, -1, -4.8, 1, -1, 2, 1, -1.5, -0.5, -5.1, 3, -1, 0.5, -2, -3, 1, 0.5, -1.5, 0.5, 4.7, -4.8, 3, 0, 4, -1, 2, 0.5, -0.5],
  [-4, -2.5, -1.5, -3.5, -3.3, -1, -3.5, -0.5, 1, -2, 0, -1.5, 0, -1, -1, -0.5, 0.5, -2.5, -1, -3.8, -1.5, -2, 0.5, -2, 3.5, -1, -3, -4.3, -1, -2, -1, -2, -1, -2, -1.5, -3, -2.5, -2.5, -3.2, -3.5],
  [-1.8, 3, -2, 0.5, -1.5, 1.5, 0, 2.5, -3.2, 1, -1, 2.8, -1, 0, 1.5, -1, 0.5, 0, 2, -1, 2.2, 0, -2, 3, -1, 0.5, -2, 0.5, 1, -2, 2, -1, 0, -1.5, 1, -2.5, 0, 1, -1, 2],
  [-1, 0.5, -2.5, 0.5, 1.5, -1.5, 1, 0, -1, 1.5, 0.5, 0, -1, 1, -0.5, -1, 0, -2, -1, 0, 0.5, -1, 1, 0, -2, 1, -1.5, 0, -1, 0.5, -1, 0, -1.5, 0.5, -1, 0, -2, 0, -1, -2],
  [0.5, -1, 0, -2, 1, 0, -1.5, 0.5, 1, -1, 1.5, -0.5, 0, -1.5, 0.5, 0, -1, 1, -1.5, 0, -1, 0.5, -1, -1.5, 0, -1, 1, -1.5, -0.5, 0, -1.5, 0.5, -1, 0, -2, 0.5, -1, -0.5, 1.5, -1],
  [-3, -1, -2, 0, -2, 1.5, -0.5, -2, 0.5, 0, -1, 0.5, -1.5, 0, -1, -0.5, -2.5, 0, -1.5, -1, -2, -0.5, 0, -2.5, -1, 0, -1, 0.5, -2, -1, -1.5, -2, 0, -1, -2.5, -1, -0.5, -1.5, -0.5, -2],
  [-1.5, 1.5, 0, -1, 0.5, -0.5, 0, 1, -0.5, 0.5, 0, 1, -0.5, 0.5, 0, -1, 1, -0.5, 0, 0.5, 0, -1, 0.5, 0, -1, 0.5, 0, -1, 0.5, 0, -0.5, 0.5, 0, -1, 0, -0.5, 1, 0, -1, 0],
  [-0.5, 2, -1, 1, -2, 0.5, 1.5, -1, 0, 2, -1, 0, 1.5, -1.5, 0, 1, -2, 0.5, 0, -1, 1.5, -1, 0, 1, -1.5, 0, 1.5, -1, 0, -1.5, 1, 0, -2, 1, 0, -1.5, 1, -1, 0, -0.5],
  [1, -1.5, 0.5, -2.5, 0, -1, 2, 0, -1.5, 0.5, -0.5, 1.5, -1, 0, 2, -1, 0.5, -1.5, 0, 1.5, -2, 0, 1, -1, 0.5, -1.5, 2, 0, -1, 1, -1.5, 0, 1, -0.5, -1, 1, -1.5, 0.5, -1, 0.5],
]

const senegal = [
  [1.5, 11, -15.1, 15.1, 0, 1, 0.5, 2.5, 0, 1, 1.5, 0, 2, 1, 0.5, 2, 0, 1, 1.5, 0.5, 0, 1, 0.5, 2, 1, 0, 1.5, 0.5, 1, 0, 0.5, 1, 0, 1.5, 0, 1, 0.5, 1, 2.5, 2],
  [-3.5, 0, -2.5, -1, -3.5, 1, -1, -3, 0.5, -3, 0, -1, -1.5, 0, -1, -2, 0, -6, -1, -2.5, -1, 0, -2, -4, 0, -1.5, -1, -2, 0, -1.5, -1, -2, 0, -1, -2.5, -1, 0, -2, -1, -1.5],
  [0.5, -1, 1.5, 0, 1.5, -1, 2.5, 0, 2, -1.5, 2.5, 0, -1, 2, -1.5, 1, 2.5, -1, 1.5, 0, 1, -0.5, 2, 0, -1, 1, 0, 1.5, -0.5, 0, -1, 1, -0.5, 0.5, 1, -1, 1.5, 0, 0.5, 1],
  [-1, 1.5, -1, -2, 0, -2, -0.5, 1, -2, 0.5, -1.5, 1, -0.5, -2, 1, -1, -1.5, -4, 0, 1, -1.5, -1, 0, -1, -2, 0, -1, -1.5, -2.5, 0.5, -1.5, 0, -1.5, -1, 0, -2, -1, -0.5, -1.5, 0],
  [1, -0.5, 0.5, -1.5, 1, 0, -1, 1.5, -0.5, 0, 0.5, -1, 1, 0, -0.5, 0.5, -1, -3, 1, -1, 0.5, -1, 1, 0, 0.5, -1, 0, 1, 0, -1, 0, 0.5, -1, 0, 0.5, -0.5, -1, 0.5, 0, -1],
  [-2, 0.5, -1.5, 1, -1, 0.5, -1.5, 0, 1, -1, 0, -1.5, 1, -1, 0, -1.5, 0.5, -2, -1, 0, -1, 0.5, -1.5, -1, 0, -0.5, 1, -1, -1.5, 0.5, 0, -1, 0.5, -1.5, 0, 0.5, -2, -1, 1, -0.5],
  [0, 2, -1, 0.5, -0.5, 1.5, 0, -1, 0.5, 1, -1, 0.5, 0, 1.5, 0, -1, 1, -2, 0.5, 1, 0, -1, 0.5, 1, 0, 0.5, -1, 0, 1, -1, -0.5, 0, 1, -0.5, -1, 0.5, 0, 1.5, -1, -0.5],
  [-1.5, -1, 0, -0.5, -1, -1.5, 0, 0.5, -1, -0.5, 0, 0.5, -0.5, -1, 0, 0.5, -1, 0, -0.5, -1, -0.5, 0, -1, 0.5, -0.5, 0, -1, -0.5, 0, -1, -1, -0.5, 0, -1, -0.5, 0, -0.5, -1, 0, -1],
  [-0.5, 1, -2, 1.5, -1, 0, 1.5, -1, 0, 1, -1.5, 0, 1.5, -1, 0.5, 0, -1.5, 1, 0, -1, 1.5, 0, -1, 0.5, 1, -1.5, 0, 1, -1, 0.5, 1, -1, 0, 1, -1.5, 0, 1, -0.5, 1.5, 0],
  [1, -2, 0.5, -1, 2, -1, 1, -0.5, -1.5, 1.5, -0.5, 1, -1, 0, 2, -1, 0.5, -2.5, 0, 1.5, -1, 0, -1.5, 1, 0, -1, 1.5, -1, 0, 1, -1.5, 1, 0, -1, 0.5, 1, -1, 0, -1, 1.5],
]

const sierraLeone = [
  [2, 11, -1, 10, 2, 4, 0, 3, 5, 1, 6, 2, 3, 0.5, 5, 6, 3, 1, 2, 4, 7, 2, 3, 6, 1, 4, 2, 5, 0, 3, 1.5, 15.7, 2, 4, 0, 5, 2, 3, 6, 3],
  [-3.5, -7, -11.5, 1, -2, 3, -3, 0, -1.5, -4, -1, -3, 1, -4.5, 0, -2, -1, -8.5, 0, -3, -1.5, -4, 0, -7, -2, 0, -3, -1, -7.5, -2, -1, -4, 0, -3, -1, -6, -2, -4, -1, -5],
  [1, 5, -5, 3, 0, -1, 2.5, -3, 1, 2, -2, 1, -1.5, 3, -3, 2, 0, 1.5, -2, 2, -3, 0, 2.5, -1, 3, -2, 1, 2.5, -3, 0, 2.5, -1, 3, -2.5, 1, 0, 2.5, -1.5, 1, -2],
  [-1, 2, 3.5, -4, 1.5, -2, 1, 4, -1, -2.5, 3, -1, 2, -1, 1.5, -3, 3.5, 0, 2.5, -1.5, 1, 3, -2, 2, 0, 3, -1.5, 0.5, 2, -1, -2, 2, -1, 1.5, 2.5, -2, 0, 2, -1, 1],
  [0, -3, 1, -1.5, -3, 1, -2, 0.5, -3.5, 0, -1, -4, 0, -2, -1, 0.5, -3, -1, -4, 0, -2, -1, -3.5, 0, -1, -2.5, 0, -3, -1, -2, 0, -3, -2, 0, -3.5, -1, -2, -0.5, -3, -1.5],
  [1.5, 0, -2, 2, -1, 2.5, -1, 1, 0, 3, 0, 1.5, -2, 0.5, 2, -1, 0.5, 2, -1, 0.5, 0, 1.5, -1, 0, 1.5, -1, 2, -0.5, 1, 0.5, 1, -1, 0.5, 2, -1.5, 1, 0, -1, 2, 0],
  [-2, 1, 0, -2.5, 2, -1, 0, -1.5, 2, -1, 1, 0, -1, 1.5, -1.5, 0, 1, -2.5, 1, -1, 0.5, -1, 1, 0, -2, 1, -1, 0, 1.5, -2, -1, 0.5, 1, -1.5, 0, 1.5, -1, 0, -1.5, 0.5],
  [-4, 3, 2, -2, 4, 0, -3, 2, -1, 1, -2, 2, 0.5, -1, 3.5, -2, 1.5, -3, 0, 3, -2, 1, -1, 4, -2, 1.5, -2.5, 3, -1, 2, -3, 1, -2, 3, -1, 2, -2.5, 1, 4, -3],
  [0, -2, 4, -1, 2.5, -2, 3, -1, 2, -2, 1, 3, -2, 2, 0, -2, 3, 1, -2, 2, 0, 3, -2, 1, -1, 2, 1, -2, 3, -1, 2, 0, -2, 2, 0, -2, 3, 1, -1, 2],
  [2, -1, 1, 2, -3, 0, 2, -2, 0.5, 3, -3, 0, 2, -2, 1, 3, -1, -2, 1, -2, 2, -2, 1, 0, 2, -3, 1, -1, 1, 2, -2, 0, -1, 2, -2, 1, -1, 2, 0, -1],
]

const togo = [
  [2, 11, 3, 8.8, 1, 0.5, 2, 5.3, 1, -0.5, 2, 1, 0, 4.8, 1, 2, 5, 0, 1, 2.5, 4.8, 1, 0.5, 2, 0, 1, 5, 2, 0, 1.5, 5.2, 1, 4, 0.5, 2, 0, 1.5, 1, 5, 2],
  [-1, 4, -1, 2.5, -7, -1, 3, -2, 0, 1, -1.5, 0, 2, -1, -5, 1, -1, -2, 2, -1, -2, 0, -8, -1, -7, 0, -2, -7, -1, 0, -2, 0.5, -1, -2, 1, -1.5, 0, -2, -1, -4],
  [-3, -1, -2, 0, 1.5, -1, -2.5, 0, -1, -2, 0, -3, -1, -0.5, -2, 0.5, -1.5, -3, 0, -2, -1, -3.5, 0, -2, -1, -4, 0, -1.5, -2.5, -1, -1, -2, -3, 0, -1.5, -2.5, -1, -3, -2, -2.5],
  [1, -2, 2, -1, 0, 2, -0.5, 1, 3, -1, 1.5, 0, -1, 2, 0.5, -1, 1, 2.5, -1, 0, 1, 2, -1, 0.5, 3, -0.5, 1, 0, 2.5, -1, 1, -1, 2, 1, -0.5, 2.5, 0, 1, -1, 0],
  [0, 2.5, -3.5, 1, -1, 0, 1, -1.5, 0.5, 0, -1, 1, -2, 0, 1, -1, 0, -1, 1, -2, 0, -1, 1, -1.5, 0, -1, 0.5, -1.5, 0, -1, 0.5, -1, 0, -1, 0.5, -1, -1.5, 0, 0.5, -1],
  [-2, 0, 1, -1.5, 0.5, -2, 0, 1.5, -1, 1, 0, -1, 1.5, -1, 0, -1.5, 0.5, 0, -1.5, 0.5, -1, 0.5, -1, 0, 1, -1.5, 0, 0.5, -1, 0, -1, 0, 1, -0.5, 0, -1, 0.5, -1, 0, 0.5],
  [1.5, -1, 0.5, -2.5, 2, 1, -1, 0, 2, -1.5, 2, -0.5, 0, 1.5, -1, 2, 0, -1, 1.5, -0.5, 1, -1.5, 2, 0, -1, 1.5, -1, 1, 0, -2, 1.5, 0, -1, 2, 0, -1, 1, 0.5, -1.5, 0],
  [-1, 0.5, -1, 0, -1.5, 0, 1, -0.5, 0, 0.5, -0.5, 0.5, 0, -1, 0.5, 0, -1, 0.5, 0, -0.5, 0, -0.5, 0.5, 0, -1, 0.5, 0, -0.5, 1, 0, -0.5, 0, -1, 0.5, 0, -1, 0, -0.5, 0, -0.5],
  [0.5, 2, -2, 1, -1, 1.5, -1, 2, -1.5, 0, 2, -1.5, 0, 2, -1, 0, 1.5, -2, 0, 2.5, -1, 0, 1.5, -2, 1, 0, -1.5, 2, -1, 0, 2, -1, 0, 2.5, -1.5, 0, 1, -2, 1, -1.5],
  [-1.5, 1, -0.5, -2, 1, -1, 2, -1, 0.5, 1.5, -2, 0, 1, -1.5, 0, 1.5, -1, 0, 1, -2, 0.5, 1, -1.5, 0, -2, 1, 0, -1, 1.5, -1.5, 0, 1.5, -1.5, 0, 1, -1, 0.5, 1.5, -2, 0.5],
]

const panelRuns = [
  benin, burkinaFaso, capeVerde,
  coteDIvoire, gambia, ghana,
  guinea, guineaBissau, liberia,
  mali, niger, nigeria,
  senegal, sierraLeone, togo,
]

// ---- layout ----
const PANEL_W = 1101
const PANEL_H = 740
const PLOT_LEFT = 164
const PLOT_RIGHT = 1067
const PLOT_TOP = 86
const PLOT_BOTTOM = 565
const FONT = "'Liberation Sans', Arial, Helvetica, sans-serif"

function Panel({ index }: { index: number }) {
  const canvasRef = useRef<HTMLCanvasElement>(null)

  useEffect(() => {
    if (!canvasRef.current) return
    const runs = panelRuns[index]
    const all = runs.flat()
    const lo = Math.min(...all)
    const hi = Math.max(...all)
    const pad = (hi - lo) * 0.05
    const xPad = (years[years.length - 1] - years[0]) * 0.05

    // title + fitted equation
    const panelText: Plugin<"line"> = {
      id: "panelText",
      afterDraw(chart) {
        const { ctx, chartArea, scales } = chart
        ctx.save()
        ctx.fillStyle = "#000"
        ctx.textBaseline = "middle"
        ctx.textAlign = "center"
        ctx.font = `50px ${FONT}`
        ctx.fillText(countries[index], (chartArea.left + chartArea.right) / 2, 56)

        const parts = [
          { t: "y", style: "italic", size: 52, dy: 0 },
          { t: ` = ${slopes[index]} \u00b7 `, style: "", size: 52, dy: 0 },
          { t: "x", style: "italic", size: 52, dy: 0 },
          { t: ` + ${intercepts[index]},  `, style: "", size: 52, dy: 0 },
          { t: "r", style: "italic", size: 52, dy: 0 },
          { t: "2", style: "", size: 36, dy: -21 },
          { t: ` = ${rSquared[index]}`, style: "", size: 52, dy: 0 },
        ]
        ctx.textAlign = "left"
        let total = 0
        const widths = parts.map((p) => {
          ctx.font = `${p.style} ${p.size}px ${FONT}`
          const w = ctx.measureText(p.t).width
          total += w
          return w
        })
        let x = scales.x.getPixelForValue(labelYear) - total / 2
        const y = scales.y.getPixelForValue(labelY) + 1
        parts.forEach((p, i) => {
          ctx.font = `${p.style} ${p.size}px ${FONT}`
          ctx.fillText(p.t, x, y + p.dy)
          x += widths[i]
        })
        ctx.restore()
      },
    }

    const config: ChartConfiguration<"line"> = {
      type: "line",
      data: {
        datasets: [
          {
            data: [
              { x: years[0], y: fitStart[index] },
              { x: years[years.length - 1], y: fitEnd[index] },
            ],
            borderColor: "#ff0000",
            borderWidth: 9,
            pointRadius: 0,
          },
          ...runs.map((run) => ({
            data: years.map((yr, i) => ({ x: yr, y: run[i] })),
            borderColor: "#000000",
            borderWidth: 2.8,
            pointRadius: 0,
            tension: 0,
            borderJoinStyle: "round" as const,
          })),
        ],
      },
      options: {
        animation: false,
        responsive: false,
        devicePixelRatio: 1,
        layout: { padding: { top: PLOT_TOP, right: PANEL_W - PLOT_RIGHT, left: 0, bottom: 0 } },
        plugins: {
          legend: { display: false },
          tooltip: { enabled: false },
          title: { display: false },
        },
        scales: {
          x: {
            type: "linear",
            min: years[0] - xPad,
            max: years[years.length - 1] + xPad,
            afterBuildTicks: (scale) => {
              scale.ticks = xTickValues.map((v) => ({ value: v }))
            },
            afterFit: (scale) => {
              scale.height = PANEL_H - PLOT_BOTTOM
            },
            grid: { drawOnChartArea: false, drawTicks: true, tickLength: 16, tickWidth: 3, tickColor: "#000" },
            border: { display: true, color: "#000", width: 4 },
            ticks: {
              color: "#4d4d4d",
              font: { family: FONT, size: 35 },
              padding: 12,
              maxRotation: 0,
              autoSkip: false,
              callback: (v) => String(v),
            },
            title: {
              display: true,
              text: "Year",
              color: "#000",
              font: { family: FONT, size: 44 },
              padding: { top: 0, bottom: 58 },
            },
          },
          y: {
            type: "linear",
            min: lo - pad,
            max: hi + pad,
            afterBuildTicks: (scale) => {
              scale.ticks = yTickValues[index].map((v) => ({ value: v }))
            },
            afterFit: (scale) => {
              scale.width = PLOT_LEFT
            },
            grid: { drawOnChartArea: false, drawTicks: true, tickLength: 16, tickWidth: 3, tickColor: "#000" },
            border: { display: true, color: "#000", width: 4 },
            ticks: {
              color: "#4d4d4d",
              font: { family: FONT, size: 32 },
              padding: 12,
              autoSkip: false,
              callback: (v) => String(v),
            },
            title: {
              display: true,
              text: "Power Changes(%)",
              color: "#000",
              font: { family: FONT, size: 44 },
              padding: { top: 50, bottom: 0 },
            },
          },
        },
      },
      plugins: [panelText],
    }

    const chart = new Chart(canvasRef.current, config)
    return () => chart.destroy()
  }, [index])

  const col = index % 3
  const row = Math.floor(index / 3)
  return (
    <canvas
      ref={canvasRef}
      width={PANEL_W}
      height={PANEL_H}
      style={{ position: "absolute", left: col * PANEL_W, top: row * PANEL_H, width: PANEL_W, height: PANEL_H }}
    />
  )
}

export default function App() {
  return (
    <div
      style={{
        position: "fixed",
        left: 0,
        top: 0,
        width: 3295,
        height: 3659,
        background: "#ffffff",
        overflow: "hidden",
      }}
    >
      {countries.map((_, i) => (
        <Panel key={i} index={i} />
      ))}
    </div>
  )
}
